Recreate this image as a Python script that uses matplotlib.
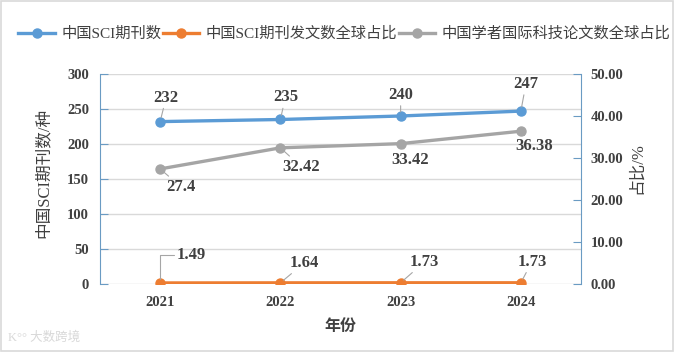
import matplotlib
matplotlib.use("Agg")
import matplotlib.pyplot as plt
from matplotlib.patches import Rectangle

plt.rcParams['font.family'] = ['Liberation Serif', 'Noto Sans CJK SC', 'DejaVu Sans']

years = ["2021", "2022", "2023", "2024"]
journals = [232, 235, 240, 247]
journal_share = [1.49, 1.64, 1.73, 1.73]
scholar_share = [27.4, 32.42, 33.42, 36.38]
journal_labels = ["232", "235", "240", "247"]
journal_share_labels = ["1.49", "1.64", "1.73", "1.73"]
scholar_share_labels = ["27.4", "32.42", "33.42", "36.38"]
legend_names = ["中国SCI期刊数", "中国SCI期刊发文数全球占比", "中国学者国际科技论文数全球占比"]

BLUE = "#5B9BD5"
ORANGE = "#ED7D31"
GRAY = "#A5A5A5"
TXT = "#404040"
SPINE = "#6A9BC3"
GRID = "#D9D9D9"

fig = plt.figure(figsize=(6.75, 3.52), dpi=100)
fig.patches.append(Rectangle((0.002, 0.003), 0.995, 0.994, transform=fig.transFigure,
                             fill=False, edgecolor="#D9D9D9", lw=1.2))
ax = fig.add_axes([100/675, 1-284/352, 481/675, 210/352])
ax2 = ax.twinx()

x = list(range(len(years)))
l1, = ax.plot(x, journals, color=BLUE, lw=2.4, marker='o', ms=6.5, zorder=3)
l2, = ax.plot(x, journal_share, color=ORANGE, lw=2.4, marker='o', ms=6.5, zorder=3)
l3, = ax2.plot(x, scholar_share, color=GRAY, lw=2.4, marker='o', ms=6.5, zorder=3)

ax.set_xlim(-0.5, 3.5)
ax.set_ylim(0, 300)
ax.set_yticks(range(0, 301, 50))
ax2.set_ylim(0, 50)
ax2.set_yticks(range(0, 51, 10))
ax2.set_yticklabels([f"{v:.2f}" for v in range(0, 51, 10)])
ax.set_xticks(x)
ax.set_xticklabels(years)

ax.grid(axis='y', color=GRID, lw=1)
ax.set_axisbelow(True)
for a in (ax, ax2):
    a.spines['top'].set_visible(False)
    a.spines['bottom'].set_visible(False)
ax.spines['right'].set_visible(False)
ax2.spines['left'].set_visible(False)
ax.spines['left'].set_color(SPINE)
ax2.spines['right'].set_color(SPINE)
ax.tick_params(axis='y', direction='in', length=6, color=SPINE, pad=8,
               labelsize=10.5, labelcolor=TXT)
ax2.tick_params(axis='y', direction='in', length=6, color=SPINE, pad=7,
                labelsize=10.5, labelcolor=TXT)
ax.tick_params(axis='x', length=0, pad=9, labelsize=10.5, labelcolor=TXT)
for lab in ax.get_yticklabels() + ax2.get_yticklabels() + ax.get_xticklabels():
    lab.set_fontweight('bold')

ax.set_xlabel("年份", fontsize=11.5, color=TXT, fontweight='bold', labelpad=7)
ax.set_ylabel("中国SCI期刊数/种", fontsize=12, color=TXT)
ax.yaxis.set_label_coords(-0.10, 0.53)
ax2.set_ylabel("占比/%", fontsize=12, color=TXT, rotation=90)
ax2.yaxis.set_label_coords(1.10, 0.55)

ap = dict(arrowstyle='-', color='#A6A6A6', lw=0.8, shrinkA=0, shrinkB=3)
lab_kw = dict(textcoords='offset pixels', ha='center', va='center', fontsize=12,
              fontweight='bold', color=TXT)

blue_off = [(6, 24), (5, 22), (0, 21), (5, 27)]
for i, (v, t) in enumerate(zip(journals, journal_labels)):
    ax.annotate(t, (i, v), xytext=blue_off[i], arrowprops=ap, **lab_kw)

gray_off = [(21, -18), (21, -19), (10, -16), (13, -15)]
for i, (v, t) in enumerate(zip(scholar_share, scholar_share_labels)):
    ax2.annotate(t, (i, v), xytext=gray_off[i], arrowprops=ap, **lab_kw)

orange_off = [(31, 28), (24, 20), (24, 21), (11, 21)]
for i, (v, t) in enumerate(zip(journal_share, journal_share_labels)):
    if i == 0:
        apx = dict(ap, connectionstyle="angle,angleA=0,angleB=90,rad=0", relpos=(0, 0.5))
        ax.annotate(t, (i, v), xytext=orange_off[i], arrowprops=apx, **lab_kw)
    else:
        ax.annotate(t, (i, v), xytext=orange_off[i], arrowprops=ap, **lab_kw)

leg = fig.legend([l1, l2, l3], legend_names, loc='center', bbox_to_anchor=(0.51, 1-34/352),
                 ncol=3, frameon=False, fontsize=11, handlelength=2.4, columnspacing=0.1,
                 handletextpad=0.4)
for t in leg.get_texts():
    t.set_color(TXT)

fig.text(8/675, 1-338/352, "K°° 大数跨境", fontsize=9, color="#D8D8D8", va='center', ha='left')

fig.savefig("out.png", dpi=100)
